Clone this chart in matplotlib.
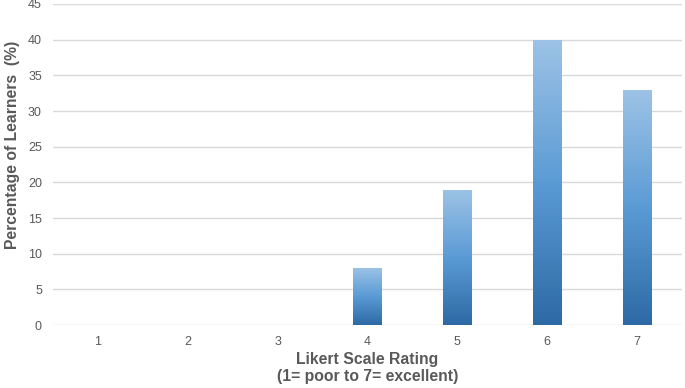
import matplotlib
matplotlib.use("Agg")
import matplotlib.pyplot as plt
import numpy as np
from matplotlib.colors import LinearSegmentedColormap

categories = ["1", "2", "3", "4", "5", "6", "7"]
values = [0, 0, 0, 8, 19, 40, 33]
yticks = [0, 5, 10, 15, 20, 25, 30, 35, 40, 45]

plt.rcParams['font.family'] = ['Liberation Sans', 'DejaVu Sans']

fig = plt.figure(figsize=(6.85, 3.88), dpi=100)
ax = fig.add_axes([0.0774, 0.162, 0.9182, 0.8277])

x = np.arange(len(categories))
bars = ax.bar(x, values, width=0.32, color='none', edgecolor='none', zorder=3)

cmap = LinearSegmentedColormap.from_list('g', ['#2d6aa5', '#5b9bd5', '#9dc3e6'])
grad = np.linspace(0, 1, 256).reshape(-1, 1)
for b in bars:
    h = b.get_height()
    if h <= 0:
        continue
    x0 = b.get_x()
    w = b.get_width()
    im = ax.imshow(grad, extent=[x0, x0 + w, 0, h], origin='lower', cmap=cmap,
                   aspect='auto', zorder=3)
    im.set_clip_path(b)

ax.set_xlim(-0.5, len(categories) - 0.5)
ax.set_ylim(0, 45)
ax.set_xticks(x)
ax.set_xticklabels(categories)
ax.set_yticks(yticks)
ax.yaxis.grid(True, color='#d9d9d9', linewidth=1.0, zorder=0)
ax.set_axisbelow(True)
for s in ax.spines.values():
    s.set_visible(False)
ax.tick_params(axis='both', length=0, colors='#595959', labelsize=9)
ax.tick_params(axis='x', pad=8)
ax.tick_params(axis='y', pad=8)

ax.set_ylabel('Percentage of Learners  (%)', fontsize=11.3, fontweight='bold',
              color='#595959')
ax.yaxis.set_label_coords(-0.053, 0.56)
ax.set_xlabel('Likert Scale Rating\n(1= poor to 7= excellent)', fontsize=11.3,
              fontweight='bold', color='#595959', labelpad=3, linespacing=1.15)

fig.savefig('out.png', dpi=100)
